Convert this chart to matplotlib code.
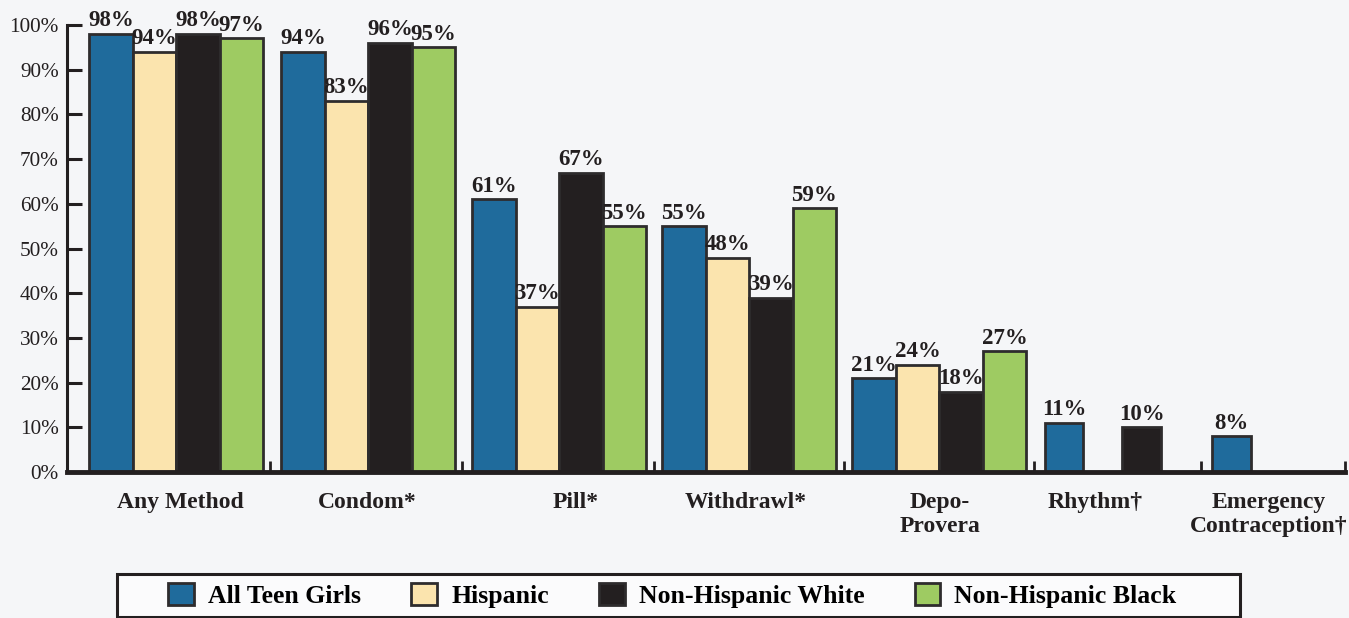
import matplotlib
matplotlib.use("Agg")

import matplotlib.pyplot as plt
from matplotlib.patches import Rectangle
import numpy as np

categories = ["Any Method", "Condom*", "Pill*", "Withdrawl*", "Depo-\nProvera",
              "Rhythm\u2020", "Emergency\nContraception\u2020"]
series = ["All Teen Girls", "Hispanic", "Non-Hispanic White", "Non-Hispanic Black"]
all_teen = [98, 94, 61, 55, 21, 11, 8]
hispanic = [94, 83, 37, 48, 24, None, None]
nh_white = [98, 96, 67, 39, 18, 10, None]
nh_black = [97, 95, 55, 59, 27, None, None]

colors = ["#1f6b9c", "#fbe4ae", "#231f20", "#9ecb62"]
edge = "#2e2c2d"
bg = "#f5f6f8"

# group layout (units of one group spacing)
group_x = np.array([0, 1, 1.995, 2.985, 3.975, 4.93, 5.80])
bar_w = np.array([0.2266] * 5 + [0.203, 0.203])
label_x = [0.02, 0.995, 2.08, 2.97, 3.98, 4.79, 5.69]
sep_x = [0.49, 1.49, 2.49, 3.48, 4.47, 5.34, 6.089]

plt.rcParams["font.family"] = ["Liberation Serif", "DejaVu Serif"]

fig = plt.figure(figsize=(13.49, 6.18), dpi=100, facecolor=bg)
ax = fig.add_axes([0.0497, 0.236, 0.9473, 0.7235], facecolor=bg)

for j, (name, vals) in enumerate(zip(series, [all_teen, hispanic, nh_white, nh_black])):
    for i, v in enumerate(vals):
        if v is None:
            continue
        x = group_x[i] + (j - 1.5) * bar_w[i]
        ax.bar(x, v, width=bar_w[i], color=colors[j], edgecolor=edge,
               linewidth=2, zorder=2, label=name if i == 0 else None)
        ax.text(x, v + 0.6, f"{v}%", ha="center", va="bottom",
                fontsize=16.5, fontweight="bold", color="#231f20", zorder=3)

ax.set_xlim(-0.568, 6.089)
ax.set_ylim(0, 100)
ax.set_yticks(range(0, 101, 10))
ax.set_yticklabels([f"{t}%" for t in range(0, 101, 10)], fontsize=15.3, color="#231f20")
ax.tick_params(axis="y", direction="in", length=11, width=2.2, color="#231f20", pad=6)

ax.set_xticks(label_x)
ax.set_xticklabels(categories, fontsize=17, fontweight="bold", color="#231f20",
                   linespacing=1.2, va="top")
ax.tick_params(axis="x", which="major", length=0, pad=14)
ax.set_xticks(sep_x, minor=True)
ax.tick_params(axis="x", which="minor", direction="in", length=8, width=2, color="#231f20")

for s in ["top", "right"]:
    ax.spines[s].set_visible(False)
ax.spines["left"].set_linewidth(2.2)
ax.spines["left"].set_color("#231f20")
ax.spines["bottom"].set_linewidth(3.5)
ax.spines["bottom"].set_color("#231f20")

# legend box is drawn separately so its padding can be wider than the entries
fig.patches.append(Rectangle((0.0867, 0.0016), 0.8325, 0.0696, transform=fig.transFigure,
                             facecolor="#fbfbfc", edgecolor="#231f20", linewidth=2.2))

handles, labels = ax.get_legend_handles_labels()
leg = fig.legend(handles, labels, loc="center", bbox_to_anchor=(0.4985, 0.0364),
                 ncol=4, frameon=False, handlelength=1.0, handleheight=0.93,
                 handletextpad=0.55, columnspacing=1.95, borderpad=0.0,
                 prop={"family": ["Liberation Serif"], "weight": "bold", "size": 18.5})

fig.savefig("out.png", dpi=100, facecolor=bg)
